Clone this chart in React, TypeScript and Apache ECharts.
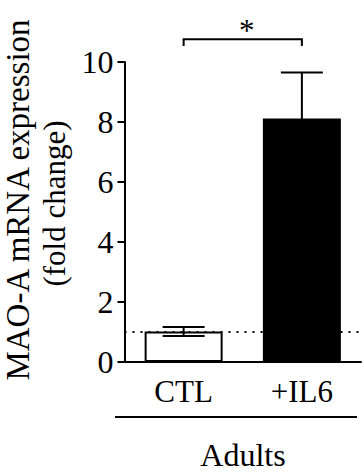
import React, { useEffect, useRef } from "react";
import * as echarts from "echarts";

const categories = ["CTL", "+IL6"];
const means = [1.02, 8.12];
const sems = [0.15, 1.53];
const yTicks = { min: 0, max: 10, interval: 2 };
const referenceLine = 1;
const bracket = { from: 0, to: 1, level: 10.76, foot: 10.53, label: "*" };
const groupLabel = "Adults";
const yTitle = ["MAO-A mRNA expression", "(fold change)"];

const FONT = "Liberation Serif";

export default function App() {
  const ref = useRef<HTMLDivElement>(null);
  useEffect(() => {
    if (!ref.current) return;
    const chart = echarts.init(ref.current, null, { renderer: "svg" });
    const barData = means.map((m, i) => ({
      value: m,
      itemStyle:
        i === 0
          ? { color: "#ffffff", borderColor: "#000", borderWidth: 2 }
          : { color: "#000000", borderColor: "#000", borderWidth: 0 },
    }));
    chart.setOption({
      animation: false,
      textStyle: { fontFamily: FONT },
      grid: { left: 124.5, right: 3, top: 62, bottom: 110, containLabel: false },
      xAxis: {
        type: "category",
        data: categories,
        axisLine: { lineStyle: { color: "#000", width: 2 } },
        axisTick: { alignWithLabel: true, length: 6, lineStyle: { color: "#000", width: 2 } },
        axisLabel: { color: "#000", fontSize: 31, fontFamily: FONT, margin: 14 },
      },
      yAxis: {
        type: "value",
        min: yTicks.min,
        max: yTicks.max,
        interval: yTicks.interval,
        splitLine: { show: false },
        axisLine: { show: true, lineStyle: { color: "#000", width: 2 } },
        axisTick: { show: true, length: 7, lineStyle: { color: "#000", width: 2 } },
        axisLabel: {
          color: "#000",
          fontSize: 32,
          fontFamily: FONT,
          margin: 11,
          padding: [0, 0, 6, 0],
        },
      },
      series: [
        {
          type: "line",
          data: [],
          z: 1,
          markLine: {
            silent: true,
            symbol: "none",
            label: { show: false },
            lineStyle: { color: "#000", type: [2, 6], width: 2 },
            data: [{ yAxis: referenceLine }],
          },
        },
        {
          type: "bar",
          data: barData,
          barWidth: 78,
          z: 2,
        },
        {
          type: "custom",
          z: 3,
          clip: false,
          data: means.map((m, i) => [i, m, sems[i]]),
          renderItem: (params: any, api: any) => {
            const x = api.value(0);
            const m = api.value(1);
            const e = api.value(2);
            const top = api.coord([x, m + e]);
            const bot = api.coord([x, m - e]);
            const hw = 21;
            const st = { stroke: "#000", lineWidth: 2 };
            return {
              type: "group",
              children: [
                { type: "line", shape: { x1: top[0], y1: top[1], x2: bot[0], y2: bot[1] }, style: st },
                { type: "line", shape: { x1: top[0] - hw, y1: top[1], x2: top[0] + hw, y2: top[1] }, style: st },
                { type: "line", shape: { x1: bot[0] - hw, y1: bot[1], x2: bot[0] + hw, y2: bot[1] }, style: st },
              ],
            };
          },
        },
        {
          type: "custom",
          z: 3,
          clip: false,
          data: [[bracket.from, bracket.level, bracket.to, bracket.foot]],
          renderItem: (params: any, api: any) => {
            const a = api.value(0);
            const lvl = api.value(1);
            const b = api.value(2);
            const foot = api.value(3);
            const p1 = api.coord([a, foot]);
            const p2 = api.coord([a, lvl]);
            const p3 = api.coord([b, lvl]);
            const p4 = api.coord([b, foot]);
            return {
              type: "group",
              children: [
                {
                  type: "polyline",
                  shape: { points: [p1, p2, p3, p4] },
                  style: { stroke: "#000", lineWidth: 2, fill: null },
                },
                {
                  type: "text",
                  x: (p2[0] + p3[0]) / 2 + 4,
                  y: p2[1] - 9,
                  style: {
                    text: bracket.label,
                    fontSize: 31,
                    fontFamily: FONT,
                    fill: "#000",
                    align: "center",
                    verticalAlign: "middle",
                  },
                },
              ],
            };
          },
        },
      ],
      graphic: [
        {
          type: "text",
          x: 18,
          y: 200,
          rotation: Math.PI / 2,
          style: {
            text: yTitle[0],
            fontSize: 33,
            fontFamily: FONT,
            fill: "#000",
            align: "center",
            verticalAlign: "middle",
          },
        },
        {
          type: "text",
          x: 54,
          y: 203.5,
          rotation: Math.PI / 2,
          style: {
            text: yTitle[1],
            fontSize: 31,
            fontFamily: FONT,
            fill: "#000",
            align: "center",
            verticalAlign: "middle",
          },
        },
        {
          type: "line",
          shape: { x1: 115, y1: 417, x2: 357, y2: 417 },
          style: { stroke: "#000", lineWidth: 2 },
        },
        {
          type: "text",
          x: 243,
          y: 455,
          style: {
            text: groupLabel,
            fontSize: 32,
            fontFamily: FONT,
            fill: "#000",
            align: "center",
            verticalAlign: "middle",
          },
        },
      ],
    });
    return () => chart.dispose();
  }, []);
  return (
    <div
      ref={ref}
      style={{ position: "absolute", left: 0, top: 0, width: 364, height: 472 }}
    />
  );
}
